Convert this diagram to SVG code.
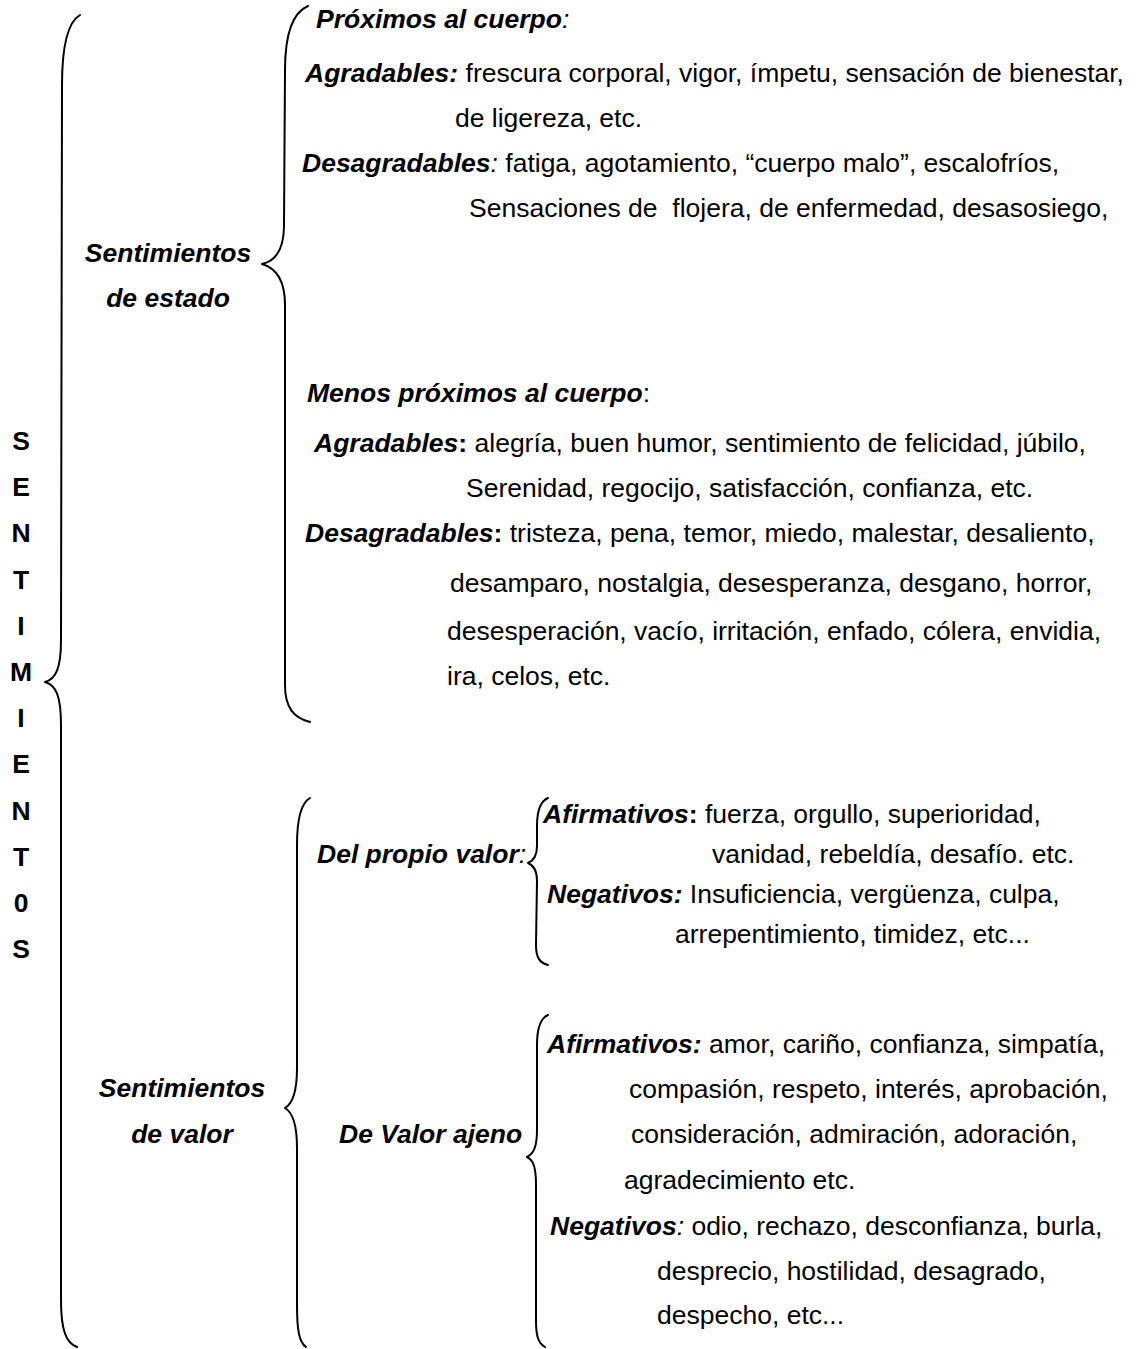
<svg xmlns="http://www.w3.org/2000/svg" width="1138" height="1349" viewBox="0 0 1138 1349">
<style>
text{font-family:"Liberation Sans",Arial,sans-serif;font-size:26.5px;fill:#000;white-space:pre}
.b{font-weight:bold;font-style:italic}
.i{font-style:italic}
.bu{font-weight:bold}
.L{font-weight:bold;text-anchor:middle}
.c{text-anchor:middle}
.br{fill:none;stroke:#000;stroke-width:2;stroke-linecap:round;stroke-linejoin:round}
</style>
<rect width="1138" height="1349" fill="#fff"/>
<g id="connectors">
<path class="br" d="M80,15 C68,22 62,45 62,85 L61,640 C61,668 56,679 45,682 C56,685 61,696 61,725 L61,1300 C61,1330 66,1343 77,1347"/>
<path class="br" d="M308,6 C294,12 285,32 285,70 L284,225 C284,250 276,261 262,264 C276,268 285,280 285,305 L285,685 C285,708 294,718 310,722"/>
<path class="br" d="M310,798 C301,803 297,818 297,845 L297,1068 C297,1093 292,1104 285,1108 C292,1112 297,1123 297,1148 L297,1305 C297,1330 299,1342 306,1347"/>
<path class="br" d="M548,798 C541,801 537,810 537,826 L537,846 C537,857 533,861 528,863 C533,865 537,870 537,881 L536,945 C536,958 540,963 548,965"/>
<path class="br" d="M548,1015 C541,1018 537,1027 537,1045 L537,1130 C537,1148 533,1154 527,1157 C533,1160 536,1166 536,1185 L536,1320 C536,1336 538,1343 545,1347"/>
</g>
<g id="root">
<text class="L" x="21" y="450">S</text>
<text class="L" x="21" y="496">E</text>
<text class="L" x="21" y="542">N</text>
<text class="L" x="21" y="589">T</text>
<text class="L" x="21" y="635">I</text>
<text class="L" x="21" y="681">M</text>
<text class="L" x="21" y="727">I</text>
<text class="L" x="21" y="773">E</text>
<text class="L" x="21" y="820">N</text>
<text class="L" x="21" y="866">T</text>
<text class="L" x="21" y="912">0</text>
<text class="L" x="21" y="958">S</text>
</g>
<g id="estado">
<text class="b c" x="168" y="262">Sentimientos</text>
<text class="b c" x="168" y="307">de estado</text>
</g>
<g id="proximos">
<text x="316" y="28"><tspan class="b">Próximos al cuerpo</tspan><tspan class="i">:</tspan></text>
<text x="305" y="82"><tspan class="b">Agradables:</tspan> frescura corporal, vigor, ímpetu, sensación de bienestar,</text>
<text x="455" y="127">de ligereza, etc.</text>
<text x="302" y="172"><tspan class="b">Desagradables</tspan><tspan class="i">:</tspan> fatiga, agotamiento, “cuerpo malo”, escalofríos,</text>
<text x="469" y="217">Sensaciones de  flojera, de enfermedad, desasosiego,</text>
</g>
<g id="menos">
<text x="307" y="402"><tspan class="b">Menos próximos al cuerpo</tspan>:</text>
<text x="314" y="452"><tspan class="b">Agradables</tspan><tspan class="bu">:</tspan> alegría, buen humor, sentimiento de felicidad, júbilo,</text>
<text x="466" y="497">Serenidad, regocijo, satisfacción, confianza, etc.</text>
<text x="305" y="542"><tspan class="b">Desagradables</tspan><tspan class="bu">:</tspan> tristeza, pena, temor, miedo, malestar, desaliento,</text>
<text x="450" y="592">desamparo, nostalgia, desesperanza, desgano, horror,</text>
<text x="447" y="640">desesperación, vacío, irritación, enfado, cólera, envidia,</text>
<text x="447" y="685">ira, celos, etc.</text>
</g>
<g id="valor">
<text class="b c" x="182" y="1097">Sentimientos</text>
<text class="b c" x="182" y="1143">de valor</text>
</g>
<g id="propio">
<text x="317" y="863"><tspan class="b">Del propio valor</tspan><tspan class="i">:</tspan></text>
<text x="543" y="823"><tspan class="b">Afirmativos</tspan><tspan class="bu">:</tspan> fuerza, orgullo, superioridad,</text>
<text x="712" y="863">vanidad, rebeldía, desafío. etc.</text>
<text x="547" y="903"><tspan class="b">Negativos:</tspan> Insuficiencia, vergüenza, culpa,</text>
<text x="675" y="943">arrepentimiento, timidez, etc...</text>
</g>
<g id="ajeno">
<text class="b" x="339" y="1143">De Valor ajeno</text>
<text x="547" y="1053"><tspan class="b">Afirmativos:</tspan> amor, cariño, confianza, simpatía,</text>
<text x="629" y="1098">compasión, respeto, interés, aprobación,</text>
<text x="631" y="1143">consideración, admiración, adoración,</text>
<text x="624" y="1189">agradecimiento etc.</text>
<text x="550" y="1235"><tspan class="b">Negativos</tspan><tspan class="i">:</tspan> odio, rechazo, desconfianza, burla,</text>
<text x="657" y="1280">desprecio, hostilidad, desagrado,</text>
<text x="657" y="1324">despecho, etc...</text>
</g>
</svg>
